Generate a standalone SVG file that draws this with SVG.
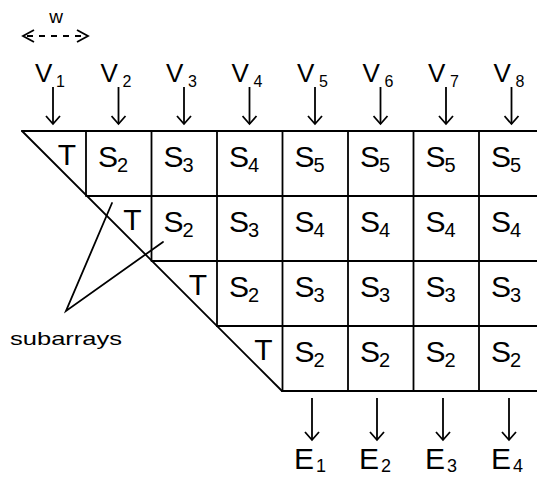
<svg xmlns="http://www.w3.org/2000/svg" width="537" height="477" viewBox="0 0 537 477">
<style>
  .ln{stroke:#000;stroke-width:1.8;fill:none;stroke-linecap:round}
  .ar{stroke:#000;stroke-width:1.8;fill:none}
  .arr{stroke:#000;stroke-width:1.8;fill:none;marker-end:url(#ah)}
  text{font-family:"Liberation Sans",Arial,sans-serif;fill:#000}
  .m{font-size:30px}
  .sb{font-size:20px}
  .es{font-size:18px}
  .v{font-size:26px}
  .vs{font-size:16px}
  .lc{font-size:19px}
</style>
<defs>
  <marker id="ah" viewBox="-10 -8 12 16" markerWidth="12" markerHeight="16" refX="0" refY="0" orient="auto" markerUnits="userSpaceOnUse">
    <path d="M-8,-7 L0,0 L-8,7" stroke="#000" stroke-width="1.8" fill="none"/>
  </marker>
</defs>
<rect width="537" height="477" fill="#fff"/>

<g id="grid">
  <path class="ln" d="M22,131 H537 M87,196 H537 M152,261 H537 M217,326 H537 M282,391 H537"/>
  <path class="ln" d="M22,131 L282,391"/>
  <path class="ln" d="M86,131 V196 M151.5,131 V261 M217,131 V326 M282.5,131 V391 M348,131 V391 M413.5,131 V391 M479,131 V391"/>
</g>

<g id="width-indicator">
  <text class="lc" x="56" y="23" text-anchor="middle">w</text>
  <path class="ar" d="M27,36 H84" stroke-dasharray="6 6"/>
  <path class="ar" d="M34,30 L23,36 L34,42 M77,30 L88,36 L77,42"/>
</g>

<g id="inputs">
  <g id="v1"><text class="v" x="35" y="82">V<tspan class="vs" x="56" y="87">1</tspan></text></g>
  <g id="v2"><text class="v" x="100.5" y="82">V<tspan class="vs" x="122.5" y="87">2</tspan></text></g>
  <g id="v3"><text class="v" x="166" y="82">V<tspan class="vs" x="188" y="87">3</tspan></text></g>
  <g id="v4"><text class="v" x="231.5" y="82">V<tspan class="vs" x="253.5" y="87">4</tspan></text></g>
  <g id="v5"><text class="v" x="297" y="82">V<tspan class="vs" x="319" y="87">5</tspan></text></g>
  <g id="v6"><text class="v" x="362.5" y="82">V<tspan class="vs" x="384.5" y="87">6</tspan></text></g>
  <g id="v7"><text class="v" x="428" y="82">V<tspan class="vs" x="450" y="87">7</tspan></text></g>
  <g id="v8"><text class="v" x="493.5" y="82">V<tspan class="vs" x="515.5" y="87">8</tspan></text></g>
</g>

<g id="cells">
  <g id="r1-t"><text class="m" x="76" y="165" text-anchor="end">T</text></g>
  <g id="r1c1"><text class="m" x="98" y="167">S<tspan class="sb" x="117" y="172">2</tspan></text></g>
  <g id="r1c2"><text class="m" x="163.5" y="167">S<tspan class="sb" x="182.5" y="172">3</tspan></text></g>
  <g id="r1c3"><text class="m" x="229" y="167">S<tspan class="sb" x="248" y="172">4</tspan></text></g>
  <g id="r1c4"><text class="m" x="294.5" y="167">S<tspan class="sb" x="313.5" y="172">5</tspan></text></g>
  <g id="r1c5"><text class="m" x="360" y="167">S<tspan class="sb" x="379" y="172">5</tspan></text></g>
  <g id="r1c6"><text class="m" x="425.5" y="167">S<tspan class="sb" x="444.5" y="172">5</tspan></text></g>
  <g id="r1c7"><text class="m" x="491" y="167">S<tspan class="sb" x="510" y="172">5</tspan></text></g>

  <g id="r2-t"><text class="m" x="141.5" y="230" text-anchor="end">T</text></g>
  <g id="r2c2"><text class="m" x="163.5" y="232">S<tspan class="sb" x="182.5" y="237">2</tspan></text></g>
  <g id="r2c3"><text class="m" x="229" y="232">S<tspan class="sb" x="248" y="237">3</tspan></text></g>
  <g id="r2c4"><text class="m" x="294.5" y="232">S<tspan class="sb" x="313.5" y="237">4</tspan></text></g>
  <g id="r2c5"><text class="m" x="360" y="232">S<tspan class="sb" x="379" y="237">4</tspan></text></g>
  <g id="r2c6"><text class="m" x="425.5" y="232">S<tspan class="sb" x="444.5" y="237">4</tspan></text></g>
  <g id="r2c7"><text class="m" x="491" y="232">S<tspan class="sb" x="510" y="237">4</tspan></text></g>

  <g id="r3-t"><text class="m" x="207" y="295" text-anchor="end">T</text></g>
  <g id="r3c3"><text class="m" x="229" y="297">S<tspan class="sb" x="248" y="302">2</tspan></text></g>
  <g id="r3c4"><text class="m" x="294.5" y="297">S<tspan class="sb" x="313.5" y="302">3</tspan></text></g>
  <g id="r3c5"><text class="m" x="360" y="297">S<tspan class="sb" x="379" y="302">3</tspan></text></g>
  <g id="r3c6"><text class="m" x="425.5" y="297">S<tspan class="sb" x="444.5" y="302">3</tspan></text></g>
  <g id="r3c7"><text class="m" x="491" y="297">S<tspan class="sb" x="510" y="302">3</tspan></text></g>

  <g id="r4-t"><text class="m" x="272.5" y="360" text-anchor="end">T</text></g>
  <g id="r4c4"><text class="m" x="294.5" y="362">S<tspan class="sb" x="313.5" y="367">2</tspan></text></g>
  <g id="r4c5"><text class="m" x="360" y="362">S<tspan class="sb" x="379" y="367">2</tspan></text></g>
  <g id="r4c6"><text class="m" x="425.5" y="362">S<tspan class="sb" x="444.5" y="367">2</tspan></text></g>
  <g id="r4c7"><text class="m" x="491" y="362">S<tspan class="sb" x="510" y="367">2</tspan></text></g>
</g>

<g id="outputs">
  <g id="e1"><text class="m" x="294" y="469">E<tspan class="es" x="316" y="472">1</tspan></text></g>
  <g id="e2"><text class="m" x="359" y="469">E<tspan class="es" x="381" y="472">2</tspan></text></g>
  <g id="e3"><text class="m" x="425" y="469">E<tspan class="es" x="447" y="472">3</tspan></text></g>
  <g id="e4"><text class="m" x="491" y="469">E<tspan class="es" x="513" y="472">4</tspan></text></g>
</g>

<g id="subarrays-label">
  <text class="lc" x="10" y="345" textLength="112" lengthAdjust="spacingAndGlyphs">subarrays</text>
</g>

<g id="connectors">
  <path class="arr" d="M53,87 V124"/>
  <path class="arr" d="M118.5,87 V124"/>
  <path class="arr" d="M184,87 V124"/>
  <path class="arr" d="M249.5,87 V124"/>
  <path class="arr" d="M315,87 V124"/>
  <path class="arr" d="M380.5,87 V124"/>
  <path class="arr" d="M446,87 V124"/>
  <path class="arr" d="M511.5,87 V124"/>
  <path class="arr" d="M312,398 V440"/>
  <path class="arr" d="M377,398 V440"/>
  <path class="arr" d="M443,398 V440"/>
  <path class="arr" d="M509,398 V440"/>
  <path class="ln" d="M112,203 L66,311 L163,242"/>
</g>
</svg>
